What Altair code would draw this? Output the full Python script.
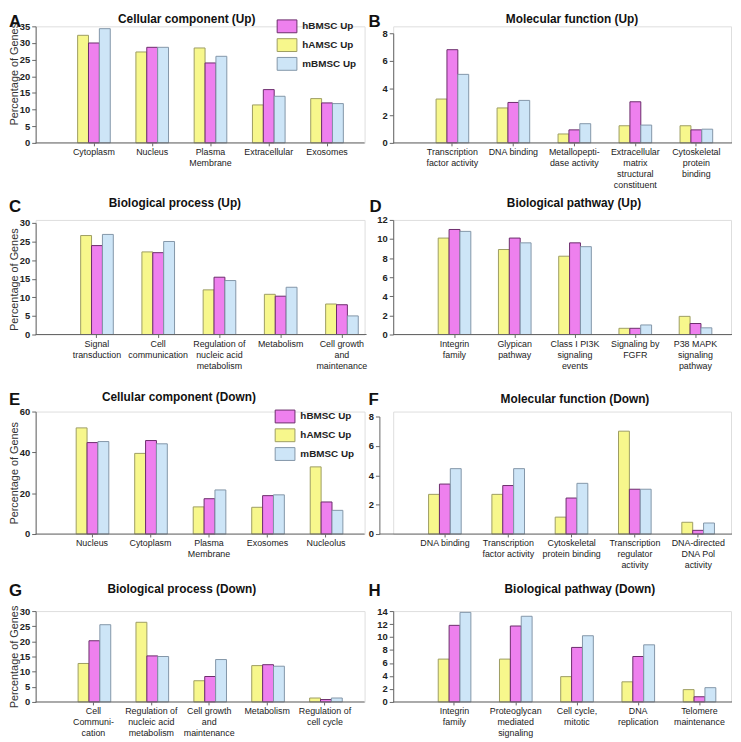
import altair as alt
import pandas as pd

FONT = "Liberation Sans"

SERIES = ["hAMSC Up", "hBMSC Up", "mBMSC Up"]          # order of bars within a group
LEGEND_ORDER = ["hBMSC Up", "hAMSC Up", "mBMSC Up"]    # order in legend
FILL_RANGE = ["#EE80EE", "#F7F78C", "#CDE5F7"]
STROKE_RANGE = ["#6B2C6B", "#9C9C62", "#8295A8"]

LETTERS = ["A", "B", "C", "D", "E", "F", "G", "H"]
TITLES = [
    "Cellular component (Up)", "Molecular function (Up)",
    "Biological process (Up)", "Biological pathway (Up)",
    "Cellular component (Down)", "Molecular function (Down)",
    "Biological process (Down)", "Biological pathway (Down)",
]
Y_TITLE = "Percentage of Genes"

# ---- A: Cellular component (Up)
A_cats = ["Cytoplasm", "Nucleus", "Plasma|Membrane", "Extracellular", "Exosomes"]
A_hamsc = [32.3, 27.3, 28.5, 11.4, 13.3]
A_hbmsc = [30.0, 28.7, 24.0, 16.0, 12.0]
A_mbmsc = [34.3, 28.7, 26.0, 14.0, 11.8]

# ---- B: Molecular function (Up)
B_cats = ["Transcription|factor activity", "DNA binding", "Metallopepti-|dase activity",
          "Extracellular|matrix|structural|constituent", "Cytoskeletal|protein|binding"]
B_hamsc = [3.2, 2.55, 0.65, 1.25, 1.25]
B_hbmsc = [6.8, 2.95, 0.95, 3.0, 0.95]
B_mbmsc = [5.0, 3.1, 1.4, 1.3, 1.0]

# ---- C: Biological process (Up)
C_cats = ["Signal|transduction", "Cell|communication", "Regulation of|nucleic acid|metabolism",
          "Metabolism", "Cell growth|and|maintenance"]
C_hamsc = [26.6, 22.2, 12.0, 10.8, 8.2]
C_hbmsc = [23.9, 22.0, 15.4, 10.3, 8.0]
C_mbmsc = [26.9, 25.0, 14.5, 12.7, 5.0]

# ---- D: Biological pathway (Up)
D_cats = ["Integrin|family", "Glypican|pathway", "Class I PI3K|signaling|events",
          "Signaling by|FGFR", "P38 MAPK|signaling|pathway"]
D_hamsc = [10.1, 8.9, 8.2, 0.65, 1.9]
D_hbmsc = [11.0, 10.1, 9.6, 0.65, 1.15]
D_mbmsc = [10.8, 9.6, 9.2, 1.0, 0.7]

# ---- E: Cellular component (Down)
E_cats = ["Nucleus", "Cytoplasm", "Plasma|Membrane", "Exosomes", "Nucleolus"]
E_hamsc = [52.0, 39.5, 13.3, 13.1, 32.9]
E_hbmsc = [44.8, 45.8, 17.3, 18.8, 15.7]
E_mbmsc = [45.3, 44.2, 21.6, 19.2, 11.6]

# ---- F: Molecular function (Down)
F_cats = ["DNA binding", "Transcription|factor activity", "Cytoskeletal|protein binding",
          "Transcription|regulator|activity", "DNA-directed|DNA Pol|activity"]
F_hamsc = [2.7, 2.7, 1.15, 7.0, 0.8]
F_hbmsc = [3.4, 3.3, 2.45, 3.05, 0.25]
F_mbmsc = [4.45, 4.45, 3.45, 3.05, 0.75]

# ---- G: Biological process (Down)
G_cats = ["Cell|Communi-|cation", "Regulation of|nucleic acid|metabolism",
          "Cell growth|and|maintenance", "Metabolism", "Regulation of|cell cycle"]
G_hamsc = [12.7, 26.3, 7.0, 12.0, 1.3]
G_hbmsc = [20.2, 15.2, 8.4, 12.3, 0.8]
G_mbmsc = [25.5, 15.0, 14.0, 11.8, 1.3]

# ---- H: Biological pathway (Down)
H_cats = ["Integrin|family", "Proteoglycan|mediated|signaling", "Cell cycle,|mitotic",
          "DNA|replication", "Telomere|maintenance"]
H_hamsc = [6.6, 6.6, 3.9, 3.1, 1.9]
H_hbmsc = [11.8, 11.7, 8.4, 7.0, 0.8]
H_mbmsc = [13.8, 13.2, 10.2, 8.8, 2.2]

Y_MAX = [35, 8, 30, 12, 60, 8, 30, 14]
Y_STEP = [5, 2, 5, 2, 20, 2, 5, 2]

# layout (pixels, local to each panel's plot area)
LAYOUT = [
    dict(w=333, h=118, yr=[118, 0], xr=[29.5, 324.5], pad=0.44, off=0, rx=(0, 333),
         letter=(-27, 1), title=(153, -3), legend=(244, -10.5), ytitle=48),
    dict(w=342, h=118, yr=[118, 7], xr=[29, 337.75], pad=0.466, off=0, rx=(0, 343),
         letter=(-25, 1), title=(181, -3), legend=None, ytitle=None),
    dict(w=333, h=116, yr=[116, 3], xr=[31, 341], pad=0.47, off=0, rx=(0, 335),
         letter=(-27, -8), title=(141, -13), legend=None, ytitle=60),
    dict(w=342, h=116, yr=[116, 0], xr=[31.5, 336.5], pad=0.46, off=0, rx=(0, 343),
         letter=(-24, -8), title=(183, -13), legend=None, ytitle=None),
    dict(w=333, h=124, yr=[124, 0], xr=[27.4, 323.6], pad=0.46, off=0, rx=(0, 333),
         letter=(-27, -7), title=(145, -11), legend=(242, -5.5), ytitle=62),
    dict(w=342, h=124, yr=[124, 5], xr=[20.4, 340.9], pad=0.48, off=14, rx=(-14, 343),
         letter=(-25, -7), title=(184, -9), legend=None, ytitle=None),
    dict(w=333, h=92, yr=[92, 0], xr=[29.2, 322.2], pad=0.47, off=0, rx=(0, 333),
         letter=(-27, -15), title=(148, -18), legend=None, ytitle=46),
    dict(w=342, h=92, yr=[92, 0], xr=[31, 341], pad=0.47, off=0, rx=(0, 343),
         letter=(-25, -15), title=(189, -18), legend=None, ytitle=None),
]

PANEL_DATA = [
    (A_cats, A_hamsc, A_hbmsc, A_mbmsc),
    (B_cats, B_hamsc, B_hbmsc, B_mbmsc),
    (C_cats, C_hamsc, C_hbmsc, C_mbmsc),
    (D_cats, D_hamsc, D_hbmsc, D_mbmsc),
    (E_cats, E_hamsc, E_hbmsc, E_mbmsc),
    (F_cats, F_hamsc, F_hbmsc, F_mbmsc),
    (G_cats, G_hamsc, G_hbmsc, G_mbmsc),
    (H_cats, H_hamsc, H_hbmsc, H_mbmsc),
]

AXIS_COLOR = "#666666"


def make_panel(i):
    cats, ha, hb, mb = PANEL_DATA[i]
    L = LAYOUT[i]
    rows = []
    for c, a, b, m in zip(cats, ha, hb, mb):
        rows.append({"category": c, "series": "hAMSC Up", "value": a})
        rows.append({"category": c, "series": "hBMSC Up", "value": b})
        rows.append({"category": c, "series": "mBMSC Up", "value": m})
    df = pd.DataFrame(rows)

    yvals = list(range(0, Y_MAX[i] + 1, Y_STEP[i]))
    yaxis_kw = dict(
        values=yvals, grid=False, domainColor=AXIS_COLOR, tickColor=AXIS_COLOR,
        tickSize=4, labelFont=FONT, labelFontSize=9.5, labelFontWeight="bold",
        labelColor="#222222", labelPadding=2, offset=L["off"],
    )
    if L["ytitle"] is not None:
        yaxis_kw.update(title=Y_TITLE, titleFont=FONT, titleFontSize=11,
                        titleFontWeight="normal", titleColor="#333333",
                        titleX=-27, titleY=L["ytitle"], titleBaseline="top",
                        titleAlign="center", titleAngle=270)
    else:
        yaxis_kw.update(title=None)

    if L["legend"] is not None:
        lx, ly = L["legend"]
        legend = alt.Legend(
            title=None, orient="none", legendX=lx, legendY=ly, padding=0,
            symbolType="M-1,-0.65H1V0.65H-1Z", symbolSize=400,
            symbolStrokeColor="#777777", symbolStrokeWidth=1, symbolOpacity=1,
            labelFont=FONT, labelFontSize=10, labelFontWeight="bold",
            labelColor="#222222", labelOffset=5, rowPadding=0,
        )
    else:
        legend = None

    bars = alt.Chart(df).mark_bar(strokeWidth=1).encode(
        x=alt.X("category:N", sort=cats,
                scale=alt.Scale(range=L["xr"], paddingInner=L["pad"], paddingOuter=L["pad"] / 2),
                axis=alt.Axis(title=None, domain=False, labelAngle=0,
                              labelExpr="split(datum.label, '|')",
                              labelFont=FONT, labelFontSize=9, labelColor="#222222",
                              labelLineHeight=11, labelPadding=2, tickSize=3,
                              tickColor=AXIS_COLOR, labelLimit=0)),
        xOffset=alt.XOffset("series:N", sort=SERIES,
                            scale=alt.Scale(paddingInner=0, paddingOuter=0)),
        y=alt.Y("value:Q",
                scale=alt.Scale(domain=[0, Y_MAX[i]], range=L["yr"], nice=False, zero=True),
                axis=alt.Axis(**yaxis_kw)),
        color=alt.Color("series:N",
                        scale=alt.Scale(domain=LEGEND_ORDER, range=FILL_RANGE),
                        legend=legend),
        stroke=alt.Stroke("series:N",
                          scale=alt.Scale(domain=LEGEND_ORDER, range=STROKE_RANGE),
                          legend=None),
    )

    rule = alt.Chart(pd.DataFrame({"a": [0]})).mark_rule(
        color=AXIS_COLOR, strokeWidth=1
    ).encode(x=alt.value(L["rx"][0]), x2=alt.value(L["rx"][1]), y=alt.value(L["h"]))

    letter = alt.Chart(pd.DataFrame({"t": [LETTERS[i]]})).mark_text(
        align="left", baseline="alphabetic", font=FONT, fontSize=17,
        fontWeight="bold", color="#111111"
    ).encode(text="t:N", x=alt.value(L["letter"][0]), y=alt.value(L["letter"][1]))

    title = alt.Chart(pd.DataFrame({"t": [TITLES[i]]})).mark_text(
        align="center", baseline="alphabetic", font=FONT, fontSize=12,
        fontWeight="bold", color="#111111"
    ).encode(text="t:N", x=alt.value(L["title"][0]), y=alt.value(L["title"][1]))

    return alt.layer(bars, rule, letter, title).properties(width=L["w"], height=L["h"])


panels = [make_panel(i) for i in range(8)]

chart = alt.concat(
    *panels, columns=2, spacing={"row": 78, "column": 29}, bounds="flush", align="each"
).resolve_scale(
    color="independent", stroke="independent"
).properties(
    padding=0
).configure_view(
    stroke=None
).configure(
    font=FONT
)

chart.save("out.html", embed_options={"renderer": "svg", "actions": False})
